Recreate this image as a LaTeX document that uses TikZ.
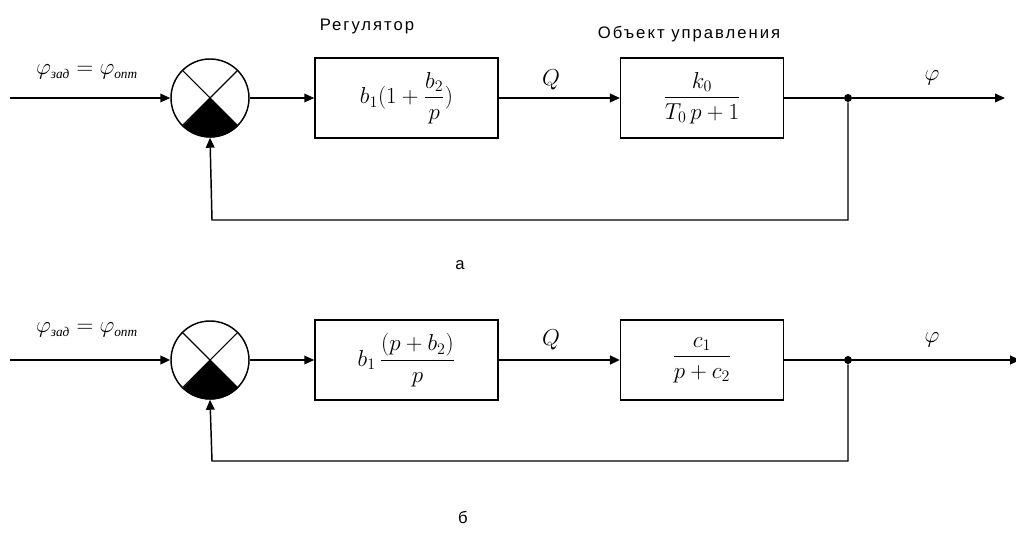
\documentclass[tikz,border=0pt]{standalone}
\usepackage{fontspec}
\usepackage{amsmath}
\usetikzlibrary{arrows.meta}
\newfontfamily\labfont[LetterSpace=12]{Liberation Sans}
\newfontfamily\cyrserif{Liberation Serif}
\newcommand{\cyrsub}[1]{\text{\cyrserif\itshape\fontsize{10}{11}\selectfont #1}}
\tikzset{
  x=0.75pt, y=-0.75pt,
  wire/.style={line width=1.1pt},
  thick wire/.style={line width=1.7pt},
  arr/.style={-{Triangle[length=7.5pt,width=6.5pt]}},
  blockbox/.style={draw, line width=1.1pt, rectangle, minimum width=122pt, minimum height=60pt, inner sep=0pt, font=\fontsize{18}{21}\selectfont},
  sumnode/.style={draw, line width=1.1pt, circle, minimum size=58.5pt, inner sep=0pt},
  lab/.style={font=\fontsize{12.5}{14}\labfont, inner sep=0pt},
  mlab/.style={font=\fontsize{18}{21}\selectfont, inner sep=0pt},
  dot/.style={circle, fill, inner sep=0pt, minimum size=6pt}
}
\newcommand{\sumsector}[1]{%
  \fill (#1.center) -- (#1.-45) arc[start angle=-45, end angle=-135, radius=29.25pt] -- cycle;
  \draw[line width=0.8pt] (#1.45) -- (#1.-135) (#1.135) -- (#1.-45);
}
\begin{document}
\begin{tikzpicture}
\useasboundingbox (0,0) rectangle (1016,534);
% ---------- diagram a ----------
\coordinate (a0) at (10,98);
\node[sumnode] (as) at (210,98) {};
\sumsector{as}
\node[blockbox, minimum width=137.25pt] (ab1) at (406.5,98) {$b_1(1+\dfrac{b_2}{p})$};
\node[blockbox] (ab2) at (702,98) {$\dfrac{k_0}{T_0\,p+1}$};
\node[dot] (aj) at (848,98) {};
\coordinate (aout) at (1005,98);
\coordinate (afb) at (848,220);
\coordinate (afb2) at (212,220);
\draw[wire, arr] (a0) -- (as);
\draw[wire, arr] (as) -- (ab1);
\draw[wire, arr] (ab1) -- (ab2);
\draw[wire] (ab2) -- (aj);
\draw[wire, arr] (aj) -- (aout);
\draw[wire, arr] (aj) -- (afb) -- (afb2) -- (as.south);
\node[mlab] (alin) at (87,72) {$\varphi_{\cyrsub{зад}} = \varphi_{\cyrsub{опт}}$};
\node[lab] (areg) at (367,27) {Регулятор};
\node[lab] (aobj) at (689,34) {Объект управления};
\node[mlab] (aQ) at (551,80) {$Q$};
\node[mlab] (aphi) at (932,78) {$\varphi$};
\node[lab] (acap) at (460,265) {а};
% ---------- diagram b ----------
\coordinate (b0) at (10,360);
\node[sumnode] (bs) at (210,360) {};
\sumsector{bs}
\node[blockbox, minimum width=137.25pt] (bb1) at (406.5,360) {$b_1\,\dfrac{(p+b_2)}{p}$};
\node[blockbox] (bb2) at (702,360) {$\dfrac{c_1}{p+c_2}$};
\node[dot] (bj) at (848,360) {};
\coordinate (bout) at (1020,360);
\coordinate (bfb) at (848,461);
\coordinate (bfb2) at (212,461);
\draw[thick wire, arr] (b0) -- (bs);
\draw[wire, arr] (bs) -- (bb1);
\draw[thick wire, arr] (bb1) -- (bb2);
\draw[thick wire] (bb2) -- (bj);
\draw[thick wire, arr] (bj) -- (bout);
\draw[wire, arr] (bj) -- (bfb) -- (bfb2) -- (bs.south);
\node[mlab] (blin) at (87,330) {$\varphi_{\cyrsub{зад}} = \varphi_{\cyrsub{опт}}$};
\node[mlab] (bQ) at (551,340) {$Q$};
\node[mlab] (bphi) at (932,340) {$\varphi$};
\node[lab] (bcap) at (463,517) {б};
\end{tikzpicture}
\end{document}
